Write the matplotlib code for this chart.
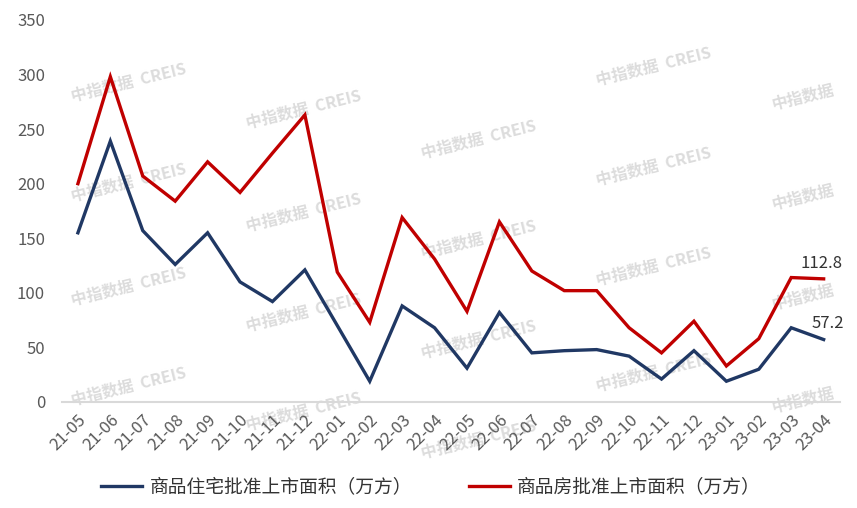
import matplotlib.pyplot as plt
import numpy as np

plt.rcParams['font.family'] = ['Noto Sans CJK SC', 'DejaVu Sans']

months = ['21-05', '21-06', '21-07', '21-08', '21-09', '21-10', '21-11', '21-12',
          '22-01', '22-02', '22-03', '22-04', '22-05', '22-06', '22-07', '22-08',
          '22-09', '22-10', '22-11', '22-12', '23-01', '23-02', '23-03', '23-04']

# 商品住宅批准上市面积（万方）
residential = [155, 239, 157, 126, 155, 110, 92, 121,
               70, 19, 88, 68, 31, 82, 45, 47,
               48, 42, 21, 47, 19, 30, 68, 57.2]

# 商品房批准上市面积（万方）
commercial = [200, 298, 207, 184, 220, 192, 228, 263,
              119, 73, 169, 131, 83, 165, 120, 102,
              102, 68, 45, 74, 33, 58, 114, 112.8]

fig = plt.figure(figsize=(8.57, 5.08), dpi=100)
ax = fig.add_axes([0.072, 0.2087, 0.908, 0.752], zorder=2)

# watermarks
wm_spots = [(70, 83), (70, 183), (70, 287), (70, 387),
            (245, 110), (245, 213), (245, 313), (245, 412),
            (420, 140), (420, 240), (420, 340), (420, 440),
            (595, 67), (595, 167), (595, 267), (595, 373)]
for px, py in wm_spots:
    fig.text(px / 857, 1 - py / 508, '中指数据  CREIS', fontsize=11.5, fontweight='bold',
             color='#dcdcdc', rotation=14, ha='left', va='center', zorder=0)
for py in [97, 197, 297, 400]:
    fig.text(770 / 857, 1 - py / 508, '中指数据', fontsize=11.5, fontweight='bold',
             color='#dcdcdc', rotation=14, ha='left', va='center', zorder=0)

x = np.arange(len(months))
ax.plot(x, residential, color='#203864', lw=2.4, label='商品住宅批准上市面积（万方）',
        solid_joinstyle='miter', zorder=3)
ax.plot(x, commercial, color='#C00000', lw=2.4, label='商品房批准上市面积（万方）',
        solid_joinstyle='miter', zorder=3)

ax.annotate('112.8', (x[-1], commercial[-1]), xytext=(-17, 8), textcoords='offset points',
            fontsize=12, color='#333333')
ax.annotate('57.2', (x[-1], residential[-1]), xytext=(-9, 8), textcoords='offset points',
            fontsize=12, color='#333333')

ax.set_xlim(-0.5, len(months) - 0.5)
ax.set_ylim(0, 350)
ax.set_yticks(np.arange(0, 351, 50))
ax.set_xticks(x)
ax.set_xticklabels(months, rotation=45, ha='right', rotation_mode='anchor')
ax.tick_params(axis='both', length=0, labelsize=12, labelcolor='#595959')
ax.tick_params(axis='x', pad=7)
ax.tick_params(axis='y', pad=12)

for s in ['top', 'right', 'left']:
    ax.spines[s].set_visible(False)
ax.spines['bottom'].set_color('#d9d9d9')
ax.spines['bottom'].set_linewidth(1.5)
ax.patch.set_alpha(0)

fig.legend(loc='lower center', bbox_to_anchor=(0.503, -0.012), ncol=2, frameon=False,
           fontsize=13.5, handlelength=2.2, handletextpad=0.4, columnspacing=3.0,
           labelcolor='#333333')

fig.savefig('out.png')
